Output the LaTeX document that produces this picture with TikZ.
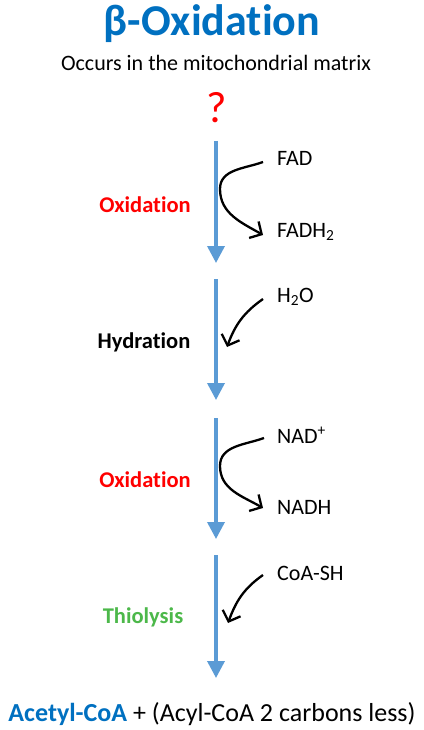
\documentclass[tikz,border=0pt]{standalone}
\usepackage{fontspec}
\setmainfont[Ligatures=NoCommon]{Carlito}
\usetikzlibrary{arrows.meta}
\definecolor{tblue}{HTML}{0070C0}
\definecolor{ablue}{HTML}{5B9BD5}
\definecolor{tgreen}{HTML}{4CB84A}
\begin{document}
\begin{tikzpicture}[x=1pt,y=-1pt,
  every node/.style={inner sep=0pt},
  stepline/.style={ablue, line width=3.5pt, -{Triangle[width=17pt,length=17pt]}},
  curv/.style={black, line width=2.3pt, -{Straight Barb[length=9pt,width=19pt,line width=2.3pt]}},
  steplabel/.style={font=\fontsize{22.5}{26}\selectfont\bfseries},
  chem/.style={font=\fontsize{22}{26}\selectfont, anchor=west}]
\useasboundingbox (0,0) rectangle (423,730);
\node[font=\fontsize{44}{52}\selectfont\bfseries, text=tblue] (title) at (212,24) {β-Oxidation};
\node[font=\fontsize{22}{26}\selectfont] (sub) at (216,63) {Occurs in the mitochondrial matrix};
\node[font=\fontsize{44}{50}\selectfont, text=red] (q) at (217,108) {?};
% step arrows
\coordinate (s1) at (216,141); \coordinate (e1) at (216,263);
\coordinate (s2) at (216,279); \coordinate (e2) at (216,400);
\coordinate (s3) at (216,418); \coordinate (e3) at (216,539);
\coordinate (s4) at (216,555); \coordinate (e4) at (216,678);
\draw[stepline] (s1) -- (e1);
\draw[stepline] (s2) -- (e2);
\draw[stepline] (s3) -- (e3);
\draw[stepline] (s4) -- (e4);
% labels
\node[steplabel, text=red] (ox1) at (145,205) {Oxidation};
\node[steplabel] (hyd) at (144,342) {Hydration};
\node[steplabel, text=red] (ox2) at (145,480) {Oxidation};
\node[steplabel, text=tgreen] (thi) at (143,617) {Thiolysis};
% chemicals
\node[chem] (fad) at (277,158) {FAD};
\node[chem] (fadh) at (277,232) {FADH\textsubscript{2}};
\node[chem] (water) at (277,297) {H\textsubscript{2}O};
\node[chem] (nad) at (277,435) {NAD\textsuperscript{+}};
\node[chem] (nadh) at (277,507) {NADH};
\node[chem] (coa) at (277,573) {CoA-SH};
% curved arrows
\coordinate (v1) at (220,189);
\coordinate (v3) at (220,466);
\coordinate (t2) at (227,347);
\coordinate (t4) at (228,623);
\draw[curv] ([xshift=-14pt,yshift=-4pt]fad.west) to[out=200,in=90] (v1) to[out=-90,in=150] ([xshift=-14pt,yshift=-3pt]fadh.west);
\draw[curv] ([xshift=-14pt,yshift=-2pt]water.west) to[out=215,in=70] (t2);
\draw[curv] ([xshift=-13pt,yshift=-3pt]nad.west) to[out=200,in=90] (v3) to[out=-90,in=150] ([xshift=-14pt,yshift=-1pt]nadh.west);
\draw[curv] ([xshift=-14pt,yshift=-2pt]coa.west) to[out=215,in=70] (t4);
% bottom
\node[font=\fontsize{26}{30}\selectfont] (bot) at (212,714) {\textcolor{tblue}{\bfseries Acetyl-CoA} + (Acyl-CoA 2 carbons less)};
\end{tikzpicture}
\end{document}
